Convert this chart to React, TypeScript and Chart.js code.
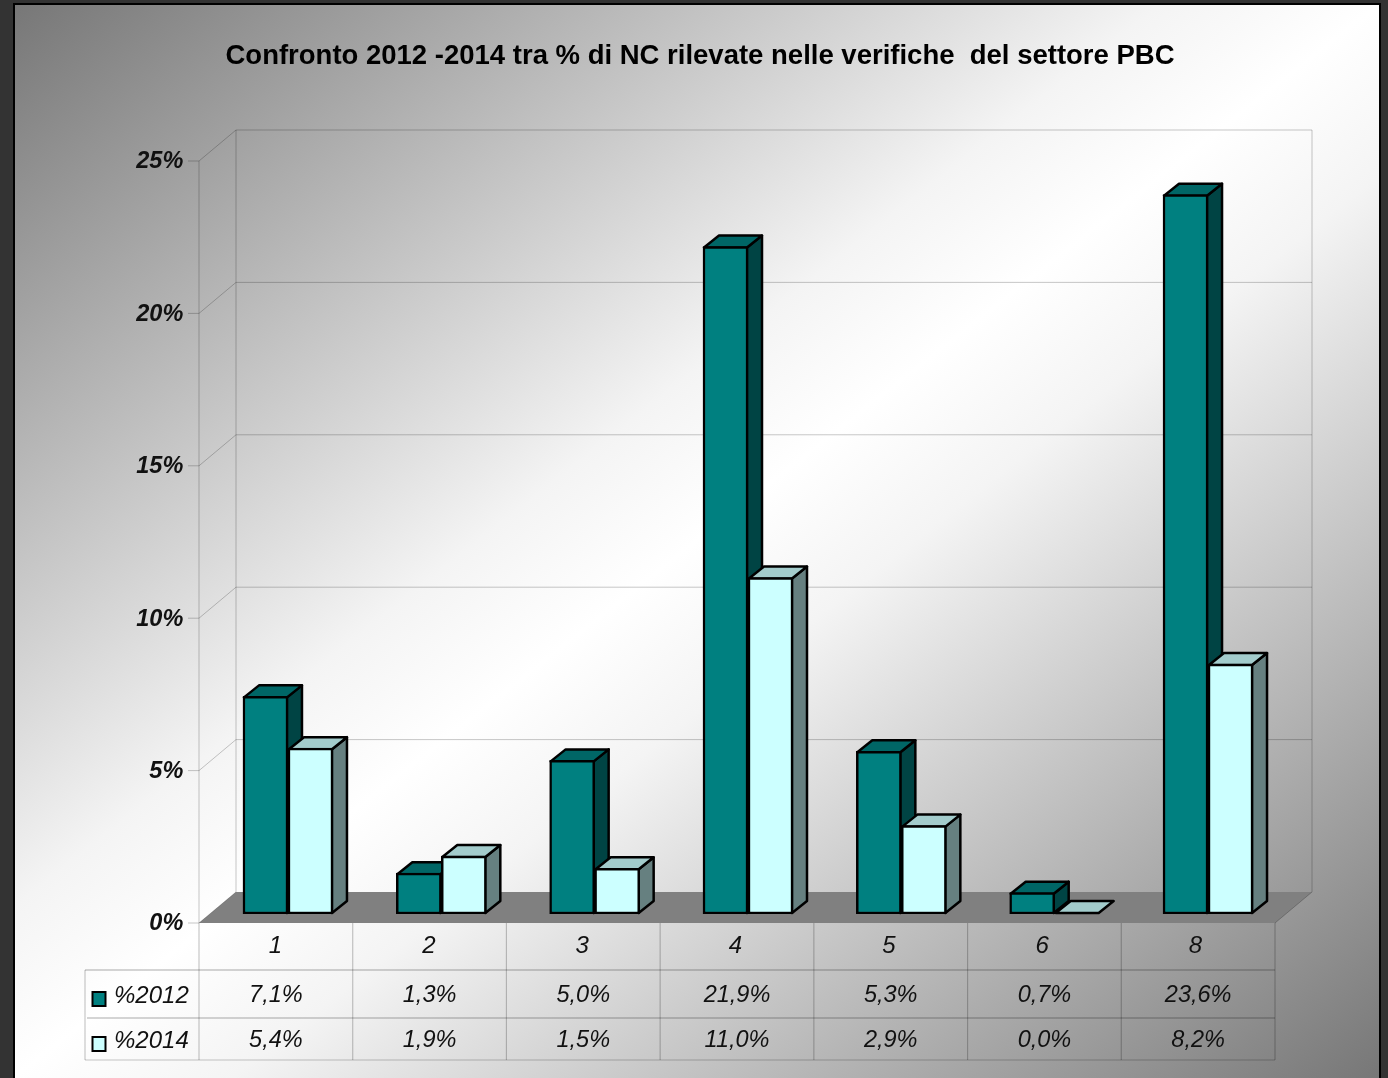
import React, { useEffect, useRef } from "react";
import { Chart, registerables } from "chart.js";

Chart.register(...registerables);

const titleText = "Confronto 2012 -2014 tra % di NC rilevate nelle verifiche  del settore PBC";
const categories = ["1", "2", "3", "4", "5", "6", "8"];
const series2012 = [7.14, 1.34, 5.04, 21.9, 5.34, 0.7, 23.6];
const series2014 = [5.44, 1.9, 1.5, 11.04, 2.9, 0.0, 8.2];
const seriesNames = ["%2012", "%2014"];
const frontColors = ["#008080", "#CCFFFF"];
const topColors = ["#006666", "#A3CCCC"];
const sideColors = ["#004444", "#668080"];

const FONT = "'Liberation Sans', Arial, sans-serif";
const fmt = (v: number) => v.toFixed(1).replace(".", ",") + "%";

const W = 1388;
const H = 1078;
const SHIFT_L = 12.3; // bars stand in the middle of the floor depth
const SHIFT_R = 9.7;
const FRONT_DY = 9; // front wall zero lies under the bars' base
const WALL_DX = 37;
const WALL_DY = 31;
const BAR_DX = 15;
const BAR_DY = 12;
const LINE = "rgba(0,0,0,0.22)";
const TEXT = "#111111";

function poly(ctx: CanvasRenderingContext2D, pts: number[][], fill?: string, stroke?: string, lw = 1) {
  ctx.beginPath();
  pts.forEach((p, i) => (i ? ctx.lineTo(p[0], p[1]) : ctx.moveTo(p[0], p[1])));
  ctx.closePath();
  if (fill) {
    ctx.fillStyle = fill;
    ctx.fill();
  }
  if (stroke) {
    ctx.strokeStyle = stroke;
    ctx.lineWidth = lw;
    ctx.stroke();
  }
}

function line(ctx: CanvasRenderingContext2D, x1: number, y1: number, x2: number, y2: number, c = LINE, lw = 1) {
  ctx.beginPath();
  ctx.moveTo(x1, y1);
  ctx.lineTo(x2, y2);
  ctx.strokeStyle = c;
  ctx.lineWidth = lw;
  ctx.stroke();
}

const scene = {
  id: "scene",
  beforeDraw(chart: any) {
    const ctx: CanvasRenderingContext2D = chart.ctx;
    ctx.save();
    ctx.fillStyle = "#333333";
    ctx.fillRect(0, 0, W, H);
    ctx.fillStyle = "#000000";
    ctx.fillRect(13, 3, 1368, H);
    const g = ctx.createLinearGradient(175, -122, 1218, 1204);
    g.addColorStop(0, "#777777");
    g.addColorStop(0.42, "#F4F4F4");
    g.addColorStop(0.5, "#FFFFFF");
    g.addColorStop(0.58, "#F4F4F4");
    g.addColorStop(1, "#777777");
    ctx.fillStyle = g;
    ctx.fillRect(15, 5, 1364, H);

    const y = chart.scales.y;
    const x = chart.scales.x;
    const L = x.left - SHIFT_L;
    const R = x.right - SHIFT_R;
    const y0 = y.getPixelForValue(0) + FRONT_DY;
    const yMax = y.getPixelForValue(25) + FRONT_DY;

    // floor
    poly(ctx, [[L, y0], [R, y0], [R + WALL_DX, y0 - WALL_DY], [L + WALL_DX, y0 - WALL_DY]], "#808080");
    // walls
    line(ctx, L, y0, L, yMax);
    line(ctx, L + WALL_DX, y0 - WALL_DY, L + WALL_DX, yMax - WALL_DY);
    line(ctx, R + WALL_DX, y0 - WALL_DY, R + WALL_DX, yMax - WALL_DY);
    line(ctx, R, y0, R + WALL_DX, y0 - WALL_DY);
    for (const v of [0, 5, 10, 15, 20, 25]) {
      const p = y.getPixelForValue(v) + FRONT_DY;
      line(ctx, L - 11, p, L, p);
      line(ctx, L, p, L + WALL_DX, p - WALL_DY);
      if (v > 0) line(ctx, L + WALL_DX, p - WALL_DY, R + WALL_DX, p - WALL_DY);
    }

    // data table grid
    const rows = [y0, 970, 1018, 1060];
    const tl = 85;
    const step = (R - L) / categories.length;
    for (let i = 0; i <= categories.length; i++) {
      line(ctx, L + i * step, rows[0], L + i * step, rows[3], LINE, 1.2);
    }
    line(ctx, tl, rows[1], tl, rows[3], LINE, 1.2);
    line(ctx, tl, rows[1], R, rows[1], LINE, 1.5);
    line(ctx, tl + 2, rows[2], R, rows[2], LINE, 1.5);
    line(ctx, tl, rows[3], R, rows[3], LINE, 1.2);

    // data table text and legend keys
    ctx.textBaseline = "middle";
    ctx.font = `italic 23.5px ${FONT}`;
    const rowY = [995, 1040];
    [series2012, series2014].forEach((vals, r) => {
      ctx.fillStyle = TEXT;
      ctx.textAlign = "center";
      vals.forEach((v, i) => ctx.fillText(fmt(v), L + (i + 0.5) * step, rowY[r]));
      ctx.textAlign = "left";
      ctx.font = `italic 24px ${FONT}`;
      ctx.fillText(seriesNames[r], 114, rowY[r] + 1);
      ctx.font = `italic 23.5px ${FONT}`;
      const t = rowY[r] - 3;
      poly(ctx, [[92.5, t], [105.5, t], [105.5, t + 14], [92.5, t + 14]], frontColors[r], "#000000", 2);
    });
    ctx.restore();
  },
  beforeDatasetsDraw(chart: any) {
    const ctx: CanvasRenderingContext2D = chart.ctx;
    ctx.save();
    ctx.lineJoin = "round";
    [0, 1].forEach((ds) => {
      chart.getDatasetMeta(ds).data.forEach((el: any) => {
        const l = el.x - el.width / 2 + 1;
        const r = el.x + el.width / 2 - 1;
        const t = el.y + 1;
        const b = el.base - 1;
        if (b - t > 0.5) {
          poly(ctx, [[r, t], [r + BAR_DX, t - BAR_DY], [r + BAR_DX, b - BAR_DY], [r, b]], sideColors[ds], "#000000", 2.5);
        }
        const ty = Math.min(t, b);
        poly(ctx, [[l, ty], [r, ty], [r + BAR_DX, ty - BAR_DY], [l + BAR_DX, ty - BAR_DY]], topColors[ds], "#000000", 2.5);
      });
    });
    ctx.restore();
  },
};

export default function App() {
  const ref = useRef<HTMLCanvasElement | null>(null);
  useEffect(() => {
    const chart = new Chart(ref.current as HTMLCanvasElement, {
      type: "bar",
      data: {
        labels: categories,
        datasets: [series2012, series2014].map((data, i) => ({
          label: seriesNames[i],
          data,
          backgroundColor: frontColors[i],
          borderColor: "#000000",
          borderWidth: 2.5,
          borderSkipped: false,
          barThickness: 45,
        })),
      },
      options: {
        responsive: false,
        animation: false,
        layout: { padding: { left: 12, right: 0, top: 0, bottom: 0 } },
        plugins: {
          legend: { display: false },
          tooltip: { enabled: false },
          title: {
            display: true,
            text: titleText,
            color: "#000000",
            font: { family: FONT, size: 27.5, weight: "bold", lineHeight: 1.2 },
            padding: { top: 40, bottom: 79 },
          },
        },
        scales: {
          x: {
            grid: { display: false },
            border: { display: false },
            ticks: {
              color: TEXT,
              font: { family: FONT, size: 24, style: "italic" },
              labelOffset: -12.5,
              padding: 10,
              maxRotation: 0,
            },
            afterFit(s: any) {
              s.height = 164;
            },
          },
          y: {
            min: 0,
            max: 25,
            grid: { display: false, drawTicks: false },
            border: { display: false },
            ticks: {
              stepSize: 5,
              color: TEXT,
              font: { family: FONT, size: 23.5, style: "italic", weight: "bold" },
              labelOffset: FRONT_DY + 1,
              padding: 28,
              callback: (v: any) => v + "%",
            },
            afterFit(s: any) {
              s.width = 199.3;
            },
          },
          spacer: {
            type: "linear",
            position: "right",
            grid: { display: false, drawTicks: false },
            border: { display: false },
            ticks: { display: false },
            afterFit(s: any) {
              s.width = 103.3;
            },
          },
        },
      } as any,
      plugins: [scene],
    });
    return () => chart.destroy();
  }, []);
  return (
    <div style={{ position: "absolute", left: 0, top: 0, width: W, height: H, overflow: "hidden" }}>
      <canvas ref={ref} width={W} height={H} style={{ display: "block", width: W, height: H }} />
    </div>
  );
}
